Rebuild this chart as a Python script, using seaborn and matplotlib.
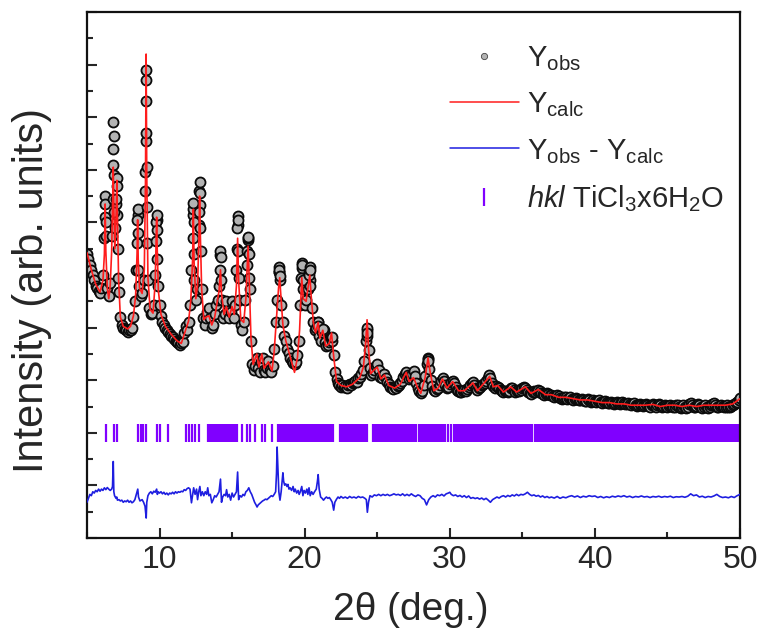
import numpy as np
import matplotlib
matplotlib.use("Agg")
import matplotlib.pyplot as plt
from matplotlib import font_manager
from matplotlib.lines import Line2D
from matplotlib.ticker import MultipleLocator
import seaborn as sns

# ---------------- data ----------------
# observed pattern: scan from 5.0 to 50.0 deg 2theta, 0.1 deg step (arb. units)
SCAN_START, SCAN_END, SCAN_STEP = 5.0, 50.0, 0.1
y_obs_scan = [
    10.8, 10.6, 10.4, 10.2, 10.0, 9.8, 9.6, 9.5, 9.4, 9.3,          # 5
    9.5, 10.0, 11.4, 11.5, 9.5, 9.2, 9.7, 11.5, 14.8, 11.8,         # 6
    12.7, 12.3, 9.35, 8.4, 8.1, 8.0, 7.95, 7.9, 7.85, 7.9,          # 7
    7.9, 8.0, 8.4, 9.0, 10.2, 12.3, 9.6, 9.2, 9.3, 9.8,             # 8
    13.2, 16.6, 9.8, 8.75, 8.5, 8.55, 8.85, 10.0, 12.1, 9.6,        # 9
    8.85, 8.45, 8.2, 8.1, 8.0, 7.9, 7.85, 7.75, 7.7, 7.65,          # 10
    7.55, 7.5, 7.45, 7.4, 7.35, 7.4, 7.45, 7.8, 8.05, 7.9,          # 11
    8.2, 8.85, 10.2, 12.3, 9.8, 9.05, 9.45, 11.9, 12.65, 9.45,      # 12
    8.35, 8.1, 8.35, 8.6, 8.75, 8.35, 8.0, 8.1, 8.5, 8.85,          # 13
    9.05, 9.6, 10.75, 9.05, 8.35, 8.5, 9.0, 8.65, 8.35, 8.6,        # 14
    9.0, 8.35, 8.85, 10.2, 11.9, 9.05, 8.1, 7.9, 8.2, 9.05,         # 15
    10.4, 11.35, 9.45, 7.5, 6.6, 6.4, 6.55, 6.85, 6.45, 6.3,        # 16
    6.7, 6.85, 6.4, 6.3, 6.45, 6.75, 6.4, 6.3, 6.55, 7.2,           # 17
    8.2, 9.05, 10.1, 9.8, 8.85, 8.2, 7.7, 7.5, 7.2, 7.05,           # 18
    6.85, 6.75, 6.65, 6.6, 6.7, 6.95, 7.5, 8.85, 10.25, 9.45,       # 19
    8.85, 9.05, 9.45, 10.1, 9.8, 8.75, 8.2, 7.9, 8.0, 8.2,          # 20
    7.7, 7.5, 7.85, 7.9, 7.45, 7.3, 7.35, 7.45, 7.6, 7.5,           # 21
    6.95, 6.30, 6.05, 5.88, 5.82, 5.76, 5.80, 5.74, 5.78, 5.72,     # 22
    5.80, 5.86, 5.82, 5.88, 5.92, 5.98, 5.95, 6.08, 6.12, 6.22,     # 23
    6.4, 6.75, 7.5, 7.9, 7.15, 6.45, 6.2, 6.28, 6.38, 6.55,         # 24
    6.62, 6.40, 6.12, 6.08, 6.18, 6.24, 6.08, 5.92, 5.84, 5.76,     # 25
    5.72, 5.68, 5.74, 5.70, 5.78, 5.82, 5.88, 5.98, 6.12, 6.24,     # 26
    6.30, 6.18, 6.05, 6.10, 6.24, 6.36, 6.15, 5.88, 5.72, 5.58,     # 27
    5.52, 5.58, 5.80, 6.16, 6.60, 6.85, 6.42, 6.02, 5.78, 5.64,     # 28
    5.60, 5.66, 5.70, 5.80, 5.96, 6.08, 5.96, 5.82, 5.72, 5.76,     # 29
    5.86, 5.94, 5.98, 5.88, 5.74, 5.64, 5.58, 5.54, 5.56, 5.60,     # 30
    5.62, 5.60, 5.66, 5.74, 5.82, 5.90, 5.94, 5.82, 5.70, 5.64,     # 31
    5.70, 5.76, 5.80, 5.84, 5.90, 5.96, 6.08, 6.18, 6.10, 5.90,     # 32
    5.78, 5.72, 5.78, 5.76, 5.70, 5.62, 5.58, 5.54, 5.58, 5.60,     # 33
    5.56, 5.60, 5.72, 5.70, 5.62, 5.56, 5.60, 5.64, 5.60, 5.64,     # 34
    5.70, 5.74, 5.72, 5.64, 5.56, 5.50, 5.48, 5.54, 5.58, 5.56,     # 35
    5.60, 5.64, 5.58, 5.50, 5.46, 5.42, 5.46, 5.50, 5.46, 5.42,     # 36
    5.44, 5.40, 5.36, 5.40, 5.44, 5.40, 5.34, 5.30, 5.34, 5.38,     # 37
    5.36, 5.30, 5.32, 5.36, 5.30, 5.26, 5.30, 5.34, 5.28, 5.24,     # 38
    5.26, 5.30, 5.26, 5.20, 5.22, 5.28, 5.24, 5.18, 5.22, 5.26,     # 39
    5.22, 5.18, 5.20, 5.24, 5.18, 5.14, 5.18, 5.22, 5.16, 5.12,     # 40
    5.14, 5.18, 5.14, 5.10, 5.14, 5.18, 5.12, 5.08, 5.12, 5.16,     # 41
    5.12, 5.08, 5.10, 5.14, 5.08, 5.04, 5.08, 5.12, 5.06, 5.02,     # 42
    5.06, 5.10, 5.06, 5.02, 5.04, 5.10, 5.06, 5.02, 5.00, 5.04,     # 43
    5.08, 5.04, 5.00, 5.04, 5.08, 5.04, 4.98, 5.02, 5.06, 5.02,     # 44
    4.98, 5.02, 5.06, 5.02, 4.98, 5.00, 5.06, 5.04, 5.00, 4.96,     # 45
    5.00, 5.04, 5.00, 4.96, 5.00, 5.08, 5.12, 5.06, 5.00, 4.98,     # 46
    5.02, 5.08, 5.04, 4.98, 4.96, 5.00, 5.04, 5.00, 4.96, 5.00,     # 47
    5.04, 5.08, 5.12, 5.06, 5.00, 4.98, 5.02, 5.06, 5.02, 4.98,     # 48
    5.00, 5.04, 5.00, 4.98, 5.02, 5.06, 5.08, 5.12, 5.18, 5.26,     # 49
    5.34,
]

# additional observed points recorded across the sharp reflections
obs_peak_x = [6.22, 6.24, 6.26, 6.28,
              6.76, 6.78, 6.81, 6.83, 6.85, 6.87,
              7.03, 7.05, 7.07, 7.13, 7.16,
              8.45, 8.47, 8.49, 8.52, 8.55,
              9.02, 9.04, 9.06, 9.08, 9.10, 9.12, 9.14, 9.16,
              9.76, 9.78, 9.80, 9.82, 9.85,
              12.29, 12.31, 12.33, 12.35, 12.37,
              12.72, 12.74, 12.76, 12.78, 12.82, 12.85,
              14.17, 14.19, 14.21, 14.24,
              15.34, 15.36, 15.38, 15.40, 15.43, 15.46,
              16.06, 16.08, 16.12, 16.14, 16.17,
              18.22, 18.24, 18.26, 18.28,
              19.78, 19.80, 19.83, 19.86,
              20.32, 20.34, 20.37, 20.40,
              20.92, 20.95, 21.25, 21.85,
              24.27, 24.30, 24.33, 28.48, 28.52]
obs_peak_y = [12.2, 13.0, 12.7, 12.0,
              12.9, 14.2, 15.8, 15.3, 13.8, 12.4,
              12.9, 13.7, 13.4, 11.0, 9.9,
              11.2, 12.1, 12.5, 11.6, 10.2,
              13.9, 15.1, 17.8, 17.4, 15.4, 14.1, 12.6, 11.2,
              11.3, 12.0, 12.3, 11.7, 10.6,
              11.4, 12.5, 12.75, 12.0, 10.8,
              12.4, 13.2, 13.55, 13.1, 11.8, 10.9,
              10.2, 10.9, 10.7, 9.8,
              11.0, 11.8, 12.25, 12.1, 10.9, 9.9,
              10.9, 11.4, 11.45, 10.8, 9.9,
              10.1, 10.3, 10.2, 9.95,
              9.9, 10.45, 10.4, 9.8,
              10.0, 10.3, 10.2, 9.6,
              8.2, 8.05, 7.95, 7.65,
              7.7, 8.0, 7.8, 6.82, 6.75]

# calculated profile
calc_x = [5.0, 5.3, 5.6, 5.9, 6.1, 6.2, 6.25, 6.3, 6.4, 6.5, 6.6, 6.7, 6.78, 6.81,
          6.85, 6.92, 7.0, 7.06, 7.1, 7.18, 7.3, 7.5, 7.8, 8.0, 8.2, 8.35, 8.45,
          8.49, 8.53, 8.62, 8.8, 8.95, 9.03, 9.075, 9.12, 9.2, 9.35, 9.55, 9.7,
          9.78, 9.8, 9.83, 9.92, 10.1, 10.4, 10.8, 11.2, 11.5, 11.7, 11.85, 12.0,
          12.15, 12.28, 12.33, 12.38, 12.5, 12.62, 12.72, 12.76, 12.8, 12.9, 13.05,
          13.2, 13.4, 13.6, 13.8, 13.95, 14.1, 14.2, 14.27, 14.45, 14.6, 14.8, 15.0,
          15.15, 15.3, 15.38, 15.45, 15.6, 15.8, 15.95, 16.1, 16.18, 16.3, 16.45,
          16.7, 16.85, 17.05, 17.2, 17.5, 17.75, 17.9, 18.05, 18.2, 18.28, 18.35,
          18.5, 18.7, 19.0, 19.3, 19.5, 19.65, 19.8, 19.9, 20.1, 20.35, 20.45, 20.6,
          20.75, 20.93, 21.05, 21.25, 21.45, 21.7, 21.85, 22.0, 22.2, 22.5, 22.9,
          23.3, 23.8, 24.05, 24.2, 24.3, 24.4, 24.55, 24.8, 25.0, 25.25, 25.5, 25.8,
          26.2, 26.6, 26.9, 27.0, 27.2, 27.5, 27.8, 28.0, 28.3, 28.5, 28.65, 28.9,
          29.2, 29.5, 29.8, 30.2, 30.6, 31.0, 31.6, 31.9, 32.3, 32.75, 33.0, 33.3,
          33.7, 34.2, 34.6, 35.2, 35.6, 36.1, 36.6, 37.0, 37.5, 38.0, 38.5, 39.0,
          39.5, 40.0, 40.5, 41.0, 41.5, 42.0, 42.5, 43.0, 43.5, 44.0, 44.5, 45.0,
          45.5, 46.0, 46.5, 47.0, 47.5, 48.0, 48.5, 49.0, 49.5, 50.0]
calc_y = [10.85, 10.2, 9.65, 9.35, 9.8, 10.8, 12.7, 10.9, 9.5, 9.1, 9.6, 10.9, 13.2, 14.1,
          12.5, 11.0, 12.2, 13.6, 12.2, 9.8, 8.4, 8.05, 7.95, 8.05, 8.45, 9.2, 10.8,
          12.1, 10.6, 9.5, 9.3, 10.2, 13.5, 18.4, 13.8, 9.9, 8.7, 8.55, 9.7,
          11.6, 12.2, 11.2, 9.4, 8.5, 8.05, 7.75, 7.5, 7.4, 7.75, 8.0, 8.25,
          9.0, 10.6, 12.5, 10.5, 9.1, 9.6, 11.6, 13.0, 11.8, 9.5, 8.3,
          8.4, 8.45, 8.1, 8.4, 8.9, 9.4, 10.2, 9.3, 8.5, 8.8, 8.4, 8.8,
          8.5, 9.6, 11.4, 9.8, 8.3, 8.2, 9.1, 11.1, 9.8, 7.6, 6.6,
          7.0, 6.5, 7.0, 6.45, 6.7, 6.35, 7.1, 8.3, 9.5, 9.9, 9.3,
          8.1, 7.5, 6.9, 6.3, 6.85, 7.9, 9.9, 9.1, 9.0, 10.0, 9.2, 8.2,
          7.8, 8.2, 7.6, 7.9, 7.3, 7.4, 7.8, 6.9, 5.95, 5.8, 5.75,
          5.85, 6.1, 6.5, 7.4, 8.3, 7.2, 6.25, 6.4, 6.5, 6.05, 6.2, 5.8,
          5.7, 5.85, 6.2, 6.3, 5.95, 6.1, 5.7, 5.5, 6.1, 6.85, 6.3, 5.6,
          5.7, 6.05, 5.7, 5.95, 5.6, 5.6, 5.9, 5.6, 5.85, 6.15, 5.75, 5.8,
          5.55, 5.75, 5.55, 5.75, 5.5, 5.65, 5.45, 5.45, 5.35, 5.35, 5.3, 5.25,
          5.25, 5.2, 5.15, 5.15, 5.1, 5.1, 5.05, 5.05, 5.05, 5.08, 5.0, 5.05,
          5.05, 5.0, 5.05, 5.0, 5.05, 5.05, 5.05, 5.05, 5.1, 5.3]

# difference curve (obs - calc), drawn shifted below the pattern
DIFF_OFFSET = 1.56
diff_x = [5.0, 5.1, 5.2, 5.3, 5.4, 5.5, 5.6, 5.7, 5.8, 5.9, 6.0, 6.1, 6.2, 6.3, 6.4,
          6.5, 6.6, 6.7, 6.76, 6.81, 6.85, 6.9, 7.0, 7.05, 7.1, 7.2, 7.3, 7.4, 7.5,
          7.6, 7.7, 7.8, 7.9, 8.0, 8.1, 8.2, 8.3, 8.45, 8.5, 8.55, 8.65, 8.8, 8.9,
          9.0, 9.08, 9.12, 9.2, 9.3, 9.4, 9.5, 9.6, 9.7, 9.8, 9.85, 9.9, 10.0,
          10.1, 10.2, 10.3, 10.4, 10.5, 10.6, 10.7, 10.8, 10.9, 11.0, 11.1, 11.2,
          11.3, 11.4, 11.5, 11.6, 11.7, 11.8, 11.9, 12.0, 12.1, 12.2, 12.3, 12.35,
          12.45, 12.55, 12.62, 12.7, 12.78, 12.85, 12.95, 13.05, 13.15, 13.25,
          13.32, 13.4, 13.5, 13.6, 13.7, 13.8, 13.9, 14.0, 14.1, 14.2, 14.27,
          14.35, 14.45, 14.55, 14.62, 14.7, 14.8, 14.9, 15.0, 15.1, 15.2, 15.3,
          15.38, 15.45, 15.55, 15.65, 15.75, 15.85, 15.95, 16.05, 16.15, 16.25,
          16.35, 16.45, 16.55, 16.65, 16.72, 16.8, 16.9, 17.0, 17.1, 17.2, 17.3,
          17.4, 17.5, 17.6, 17.7, 17.8, 17.9, 18.0, 18.06, 18.1, 18.15, 18.22,
          18.3, 18.38, 18.45, 18.5, 18.55, 18.62, 18.7, 18.78, 18.85, 18.92, 19.0,
          19.1, 19.2, 19.28, 19.35, 19.45, 19.55, 19.62, 19.7, 19.8, 19.88, 19.96,
          20.05, 20.15, 20.22, 20.3, 20.38, 20.48, 20.58, 20.68, 20.8, 20.88,
          20.93, 21.0, 21.1, 21.2, 21.3, 21.4, 21.5, 21.6, 21.7, 21.8, 21.9, 22.0,
          22.08, 22.2, 22.3, 22.4, 22.5, 22.65, 22.8, 22.95, 23.1, 23.25, 23.4,
          23.55, 23.7, 23.85, 24.0, 24.15, 24.25, 24.32, 24.4, 24.5, 24.65, 24.8,
          24.95, 25.1, 25.25, 25.4, 25.55, 25.7, 25.85, 26.0, 26.15, 26.3, 26.45,
          26.6, 26.75, 26.9, 27.05, 27.2, 27.35, 27.5, 27.65, 27.8, 27.95, 28.1,
          28.25, 28.4, 28.55, 28.7, 28.85, 29.0, 29.15, 29.3, 29.45, 29.6, 29.75,
          29.9, 30.0, 30.1, 30.25, 30.4, 30.55, 30.7, 30.85, 31.0, 31.15, 31.3,
          31.45, 31.6, 31.75, 31.9, 32.05, 32.2, 32.35, 32.5, 32.65, 32.8, 32.95,
          33.1, 33.25, 33.4, 33.55, 33.7, 33.85, 34.0, 34.15, 34.3, 34.45, 34.6,
          34.75, 34.9, 35.05, 35.2, 35.35, 35.5, 35.65, 35.8, 35.95, 36.1, 36.25,
          36.4, 36.55, 36.7, 36.85, 37.0, 37.2, 37.4, 37.6, 37.8, 38.0, 38.2, 38.4,
          38.6, 38.8, 39.0, 39.2, 39.4, 39.6, 39.8, 40.0, 40.2, 40.4, 40.6, 40.8,
          41.0, 41.2, 41.4, 41.6, 41.8, 42.0, 42.2, 42.4, 42.6, 42.8, 43.0, 43.2,
          43.4, 43.6, 43.8, 44.0, 44.2, 44.4, 44.6, 44.8, 45.0, 45.2, 45.4, 45.6,
          45.8, 46.0, 46.2, 46.4, 46.6, 46.8, 47.0, 47.2, 47.4, 47.6, 47.8, 48.0,
          48.2, 48.4, 48.6, 48.8, 49.0, 49.2, 49.4, 49.6, 49.8, 50.0]
diff_y = [-0.2, -0.05, 0.1, 0.05, 0.2, 0.15, 0.25, 0.2, 0.3, 0.22, 0.3, 0.25, 0.35, 0.28, 0.36,
          0.3, 0.25, 0.3, 0.4, 1.35, 0.2, 0.05, -0.05, 0.0, -0.12, -0.1, -0.15, -0.12, -0.2,
          -0.15, -0.18, -0.12, -0.2, -0.15, -0.22, -0.18, -0.1, 0.2, 0.3, 0.0, -0.15, -0.1, -0.2,
          -0.35, -0.8, -0.2, 0.05, 0.15, 0.2, 0.12, 0.22, 0.18, 0.3, 0.1, 0.2, 0.15,
          0.2, 0.12, 0.18, 0.1, 0.15, 0.08, 0.15, 0.12, 0.18, 0.12, 0.2, 0.15,
          0.2, 0.18, 0.22, 0.2, 0.28, 0.25, 0.32, 0.35, 0.3, -0.22, 0.15, 0.35,
          0.1, 0.3, -0.1, 0.2, 0.4, 0.05, 0.2, 0.05, 0.2, 0.1,
          0.35, 0.05, 0.1, -0.22, -0.1, 0.05, 0.0, 0.1, 0.2, 0.68, -0.2,
          0.0, 0.1, 0.05, 0.28, 0.0, 0.1, -0.12, 0.15, 0.0, 0.1, 0.2,
          0.95, -0.1, 0.05, 0.0, 0.1, 0.05, 0.2, 0.25, 0.35, 0.2,
          0.1, -0.05, -0.2, -0.3, -0.38, -0.3, -0.25, -0.2, -0.15, -0.12, -0.08,
          -0.1, -0.05, 0.0, 0.05, 0.02, 0.1, 0.2, 0.9, 1.9, 1.2, 0.2,
          -0.12, 0.2, 0.6, 0.92, 0.6, 0.45, 0.5, 0.4, 0.48, 0.3, 0.35,
          0.25, 0.4, 0.2, 0.3, 0.15, 0.25, 0.1, 0.2, 0.4, 0.05, 0.25,
          0.15, 0.3, 0.1, 0.35, 0.05, 0.2, 0.1, 0.2, 0.3, 0.6,
          0.85, 0.3, 0.0, -0.05, -0.12, -0.05, 0.0, -0.05, -0.02, -0.1, -0.2, -0.5,
          -0.2, -0.08, 0.0, -0.05, 0.02, -0.04, 0.0, -0.05, 0.02, -0.03, 0.0,
          -0.04, 0.02, -0.02, 0.0, -0.05, -0.1, -0.58, -0.2, 0.05, 0.0, 0.08,
          0.05, 0.1, 0.05, 0.1, 0.06, 0.1, 0.05, 0.08, 0.12, 0.08, 0.1,
          0.06, 0.12, 0.05, 0.1, 0.05, 0.12, 0.06, 0.02, 0.08, 0.05, -0.05,
          -0.1, -0.3, -0.1, 0.0, 0.05, 0.0, 0.08, 0.05, 0.1, 0.04, 0.12,
          0.15, 0.18, 0.1, 0.05, 0.08, 0.02, 0.06, 0.0, 0.05, -0.02, 0.04,
          -0.05, -0.02, -0.06, -0.03, -0.08, -0.04, -0.1, -0.05, -0.12, -0.2, -0.1,
          -0.05, 0.0, -0.04, 0.02, 0.05, 0.0, 0.06, 0.02, 0.08, 0.04, 0.1,
          0.05, 0.1, 0.08, 0.12, 0.18, 0.1, 0.05, 0.08, 0.03, 0.06, 0.0,
          0.04, -0.02, 0.02, -0.03, 0.0, -0.04, 0.02, -0.05, 0.0, -0.03, 0.02, 0.05,
          0.0, 0.04, -0.02, 0.03, 0.0, 0.05, 0.02, 0.04, -0.02, 0.02, -0.03, 0.01,
          -0.02, 0.03, 0.0, 0.04, 0.01, 0.05, 0.0, 0.03, -0.02, 0.02, 0.0, 0.04,
          0.0, 0.02, -0.02, 0.02, 0.0, 0.03, -0.01, 0.02, 0.0, 0.03, -0.02, 0.01,
          0.0, 0.02, -0.01, 0.03, 0.12, 0.05, 0.08, 0.0, 0.03, -0.02, 0.02, 0.0,
          0.04, 0.1, 0.02, -0.02, 0.0, -0.03, 0.02, -0.02, 0.05, 0.1]

# Bragg reflection positions of TiCl3x6H2O (deg 2theta)
HKL_LEVEL = 4.0
hkl_pos = [
    6.33, 6.88, 7.06, 8.54, 8.72, 8.88, 9.05, 9.85, 10.04, 10.58,
    11.82, 12.01, 12.21, 12.44, 12.74, 13.36, 13.48, 13.6, 13.72, 13.85,
    13.98, 14.1, 14.22, 14.35, 14.47, 14.6, 14.72, 14.85, 14.97, 15.1,
    15.23, 15.35, 15.66, 16.0, 16.23, 16.58, 17.04, 17.27, 17.73,
    18.15, 18.3, 18.42, 18.55, 18.68, 18.8, 18.93, 19.05, 19.18, 19.3,
    19.43, 19.55, 19.68, 19.8, 19.92, 20.05, 20.18, 20.3, 20.42, 20.55,
    20.68, 20.8, 20.92, 21.05, 21.18, 21.3, 21.42, 21.55, 21.68, 21.8, 21.93,
    22.43, 22.55, 22.68, 22.8, 22.92, 23.05, 23.18, 23.3, 23.42, 23.55,
    23.68, 23.8, 23.92, 24.05, 24.18, 24.3,
    24.7, 24.82, 24.95, 25.08, 25.2, 25.32, 25.45, 25.58, 25.7, 25.82,
    25.95, 26.08, 26.2, 26.32, 26.45, 26.58, 26.7, 26.82, 26.95, 27.08,
    27.2, 27.32, 27.45, 27.58, 27.7, 27.85, 28.05, 28.18, 28.3, 28.42,
    28.55, 28.68, 28.8, 28.92, 29.05, 29.18, 29.3, 29.42, 29.55, 29.7,
    29.9, 30.05, 30.3, 30.42, 30.55, 30.68, 30.8, 30.92, 31.05, 31.18,
    31.3, 31.42, 31.55, 31.68, 31.8, 31.92, 32.05, 32.18, 32.3, 32.42,
    32.55, 32.68, 32.8, 32.92, 33.05, 33.18, 33.3, 33.42, 33.55, 33.68,
    33.8, 33.92, 34.05, 34.18, 34.3, 34.42, 34.55, 34.68, 34.8, 34.92,
    35.05, 35.18, 35.3, 35.42, 35.55, 35.66, 35.86, 35.98,
    36.1, 36.22, 36.35, 36.48, 36.6, 36.72, 36.85, 36.98,
    37.1, 37.22, 37.35, 37.48, 37.6, 37.72, 37.85, 37.98,
    38.1, 38.22, 38.35, 38.48, 38.6, 38.72, 38.85, 38.98,
    39.1, 39.22, 39.35, 39.48, 39.6, 39.72, 39.85, 39.98,
    40.1, 40.22, 40.35, 40.48, 40.6, 40.72, 40.85, 40.98,
    41.1, 41.22, 41.35, 41.48, 41.6, 41.72, 41.85, 41.98,
    42.1, 42.22, 42.35, 42.48, 42.6, 42.72, 42.85, 42.98,
    43.1, 43.22, 43.35, 43.48, 43.6, 43.72, 43.85, 43.98,
    44.1, 44.22, 44.35, 44.48, 44.6, 44.72, 44.85, 44.98,
    45.1, 45.22, 45.35, 45.48, 45.6, 45.72, 45.85, 45.98,
    46.1, 46.22, 46.35, 46.48, 46.6, 46.72, 46.85, 46.98,
    47.1, 47.22, 47.35, 47.48, 47.6, 47.72, 47.85, 47.98,
    48.1, 48.22, 48.35, 48.48, 48.6, 48.72, 48.85, 48.98,
    49.1, 49.22, 49.35, 49.48, 49.6, 49.72, 49.85, 49.96,
]

LEGEND_LABELS = [r"Y$_{\mathrm{obs}}$", r"Y$_{\mathrm{calc}}$",
                 r"Y$_{\mathrm{obs}}$ - Y$_{\mathrm{calc}}$",
                 r"$\mathit{hkl}$ TiCl$_3$x6H$_2$O"]

# ---------------- style ----------------
def first_font(names):
    for name in names:
        try:
            font_manager.findfont(name, fallback_to_default=False)
            return name
        except ValueError:
            continue
    return "DejaVu Sans"

sns.set_style("ticks")
FONT = first_font(["Liberation Sans Narrow", "Arial Narrow", "Liberation Sans", "Arial"])
plt.rcParams["font.family"] = [FONT, "DejaVu Sans"]
plt.rcParams["mathtext.fontset"] = "custom"
plt.rcParams["mathtext.rm"] = FONT
plt.rcParams["mathtext.it"] = FONT + ":italic"
plt.rcParams["axes.linewidth"] = 1.6

C_OBS_FACE, C_OBS_EDGE = "#b3b3b3", "#0a0a0a"
C_CALC, C_DIFF, C_HKL = "#ff1c1c", "#1e1ee0", "#8000ff"

fig = plt.figure(figsize=(7.59, 6.39), dpi=100)
ax = fig.add_axes([0.1146, 0.158, 0.8604, 0.8232])

scan_x = np.linspace(SCAN_START, SCAN_END, len(y_obs_scan))
obs_x = np.concatenate([scan_x, obs_peak_x])
obs_y = np.concatenate([y_obs_scan, obs_peak_y])

sns.scatterplot(x=obs_x, y=obs_y, ax=ax, s=52, color=C_OBS_FACE,
                edgecolor=C_OBS_EDGE, linewidth=1.3, zorder=2, legend=False)
sns.lineplot(x=calc_x, y=calc_y, ax=ax, color=C_CALC, linewidth=1.2,
             estimator=None, sort=False, zorder=3)
sns.lineplot(x=diff_x, y=np.asarray(diff_y) + DIFF_OFFSET, ax=ax, color=C_DIFF,
             linewidth=1.2, estimator=None, sort=False, zorder=3)
ax.plot(hkl_pos, np.full(len(hkl_pos), HKL_LEVEL), linestyle="none", marker="|",
        markersize=13.5, markeredgewidth=1.6, color=C_HKL, zorder=2)

ax.set_xlim(5, 50)
ax.set_ylim(0, 20)
ax.xaxis.set_major_locator(MultipleLocator(10))
ax.xaxis.set_minor_locator(MultipleLocator(5))
ax.yaxis.set_major_locator(MultipleLocator(2))
ax.yaxis.set_minor_locator(MultipleLocator(1))
ax.tick_params(which="both", direction="in", top=False, right=False, width=1.5)
ax.tick_params(which="major", length=7.5)
ax.tick_params(which="minor", length=4)
ax.tick_params(axis="x", labelsize=23, pad=5)
ax.tick_params(axis="y", labelleft=False)
for side in ax.spines.values():
    side.set_linewidth(1.6)
    side.set_color("#111111")

ax.set_xlabel("2θ (deg.)", fontsize=28)
ax.set_ylabel("Intensity (arb. units)", fontsize=30)
ax.xaxis.set_label_coords(0.496, -0.102)
ax.yaxis.set_label_coords(-0.054, 0.471)

handles = [
    Line2D([], [], linestyle="none", marker="o", markersize=4.5,
           markerfacecolor=C_OBS_FACE, markeredgecolor="#444444", markeredgewidth=0.6),
    Line2D([], [], color=C_CALC, linewidth=1.1),
    Line2D([], [], color=C_DIFF, linewidth=1.1),
    Line2D([], [], linestyle="none", marker="|", markersize=13.5,
           markeredgewidth=1.6, color=C_HKL),
]
ax.legend(handles, LEGEND_LABELS, loc="upper left", bbox_to_anchor=(0.556, 0.939),
          frameon=False, fontsize=21, handlelength=2.35, handletextpad=0.3,
          labelspacing=0.6, borderpad=0, borderaxespad=0)

fig.savefig("out.png", dpi=100)
